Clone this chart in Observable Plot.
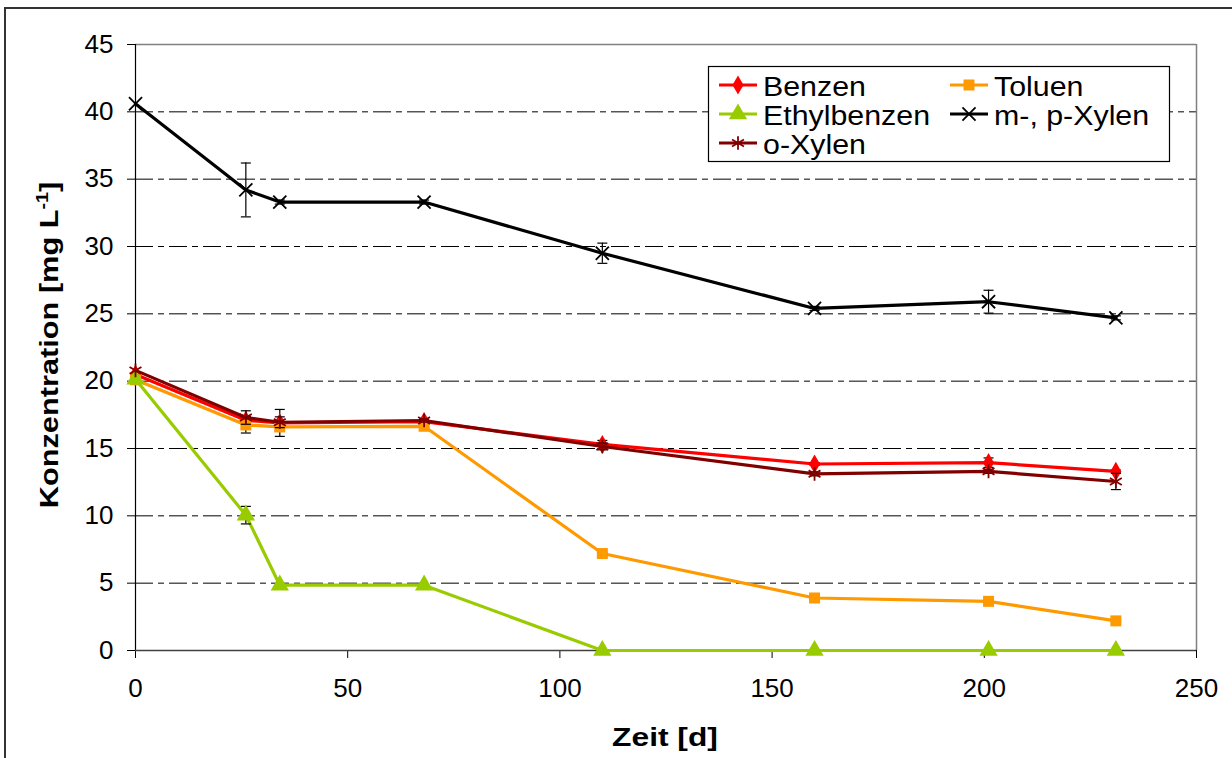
<!DOCTYPE html>
<html><head><meta charset="utf-8">
<script src="https://cdn.jsdelivr.net/npm/d3@7"></script>
<script src="https://cdn.jsdelivr.net/npm/@observablehq/plot@0.6"></script>
<style>
body{margin:0;background:#fff;overflow:hidden;font-family:"Liberation Sans",Arial,sans-serif;}
#wrap{position:relative;width:1232px;height:758px;overflow:hidden;background:#fff}
#chart{position:absolute;left:0;top:0}
#border{position:absolute;left:4px;top:7px;width:1300px;height:900px;border:2px solid #333;box-sizing:border-box;pointer-events:none}
</style></head><body><div id="wrap"><div id="chart"></div><div id="border"></div></div>
<script>
// ---- data ----
const days = [0, 26, 34, 68, 110, 160, 201, 231];
const seriesNames = ["Benzen", "Toluen", "Ethylbenzen", "m-, p-Xylen", "o-Xylen"];
const benzen      = [20.5, 17.1, 16.9, 17.0, 15.3, 13.85, 13.95, 13.3];
const benzenErr   = [0, 0.3, 1.0, 0.1, 0.3, 0.1, 0.35, 0.1];
const toluen      = [20.1, 16.75, 16.6, 16.65, 7.2, 3.9, 3.65, 2.2];
const toluenErr   = [0, 0.6, 0.3, 0.1, 0.1, 0.1, 0.1, 0.1];
const ethyl       = [20.15, 10.05, 4.85, 4.85, 0, 0, 0, 0];
const ethylErr    = [0, 0.65, 0.1, 0.05, 0, 0, 0, 0];
const mpXylen     = [40.6, 34.2, 33.3, 33.3, 29.5, 25.4, 25.9, 24.7];
const mpXylenErr  = [0, 2.0, 0.15, 0.15, 0.75, 0.15, 0.85, 0.15];
const oXylen      = [20.8, 17.3, 16.95, 17.08, 15.15, 13.12, 13.3, 12.55];
const oXylenErr   = [0, 0.5, 0.4, 0.1, 0.25, 0.15, 0.15, 0.6];
const xTicks = [0, 50, 100, 150, 200, 250];
const yTicks = [0, 5, 10, 15, 20, 25, 30, 35, 40, 45];
const yGrid = [5, 10, 15, 20, 25, 30, 35, 40];
const xLabel = "Zeit [d]";
const yLabelMain = "Konzentration [mg L";
const yLabelSup = "-1";
const yLabelEnd = "]";

const values = [benzen, toluen, ethyl, mpXylen, oXylen];
const errors = [benzenErr, toluenErr, ethylErr, mpXylenErr, oXylenErr];
const styles = [
  {color: "#FF0000", symbol: "diamond", filled: true, r: 5.8},
  {color: "#FF9900", symbol: "square", filled: true, r: 6.2},
  {color: "#99CC00", symbol: "triangle", filled: true, r: 6.8},
  {color: "#000000", symbol: "times", filled: false, r: 6},
  {color: "#800000", symbol: "asterisk", filled: false, r: 6.5}
];
const rows = seriesNames.map((name, i) => days.map((d, j) => ({
  series: name, day: d, value: values[i][j], err: errors[i][j],
  lo: values[i][j] - errors[i][j], hi: values[i][j] + errors[i][j]
})));

const capSymbol = {draw(ctx) { ctx.moveTo(-5, 0); ctx.lineTo(5, 0); }};
const FONT = "'Liberation Sans', Arial, sans-serif";

const marks = [
  Plot.ruleY(yGrid, {stroke: "#000", strokeWidth: 1, strokeDasharray: "18,5,6,5"}),
  Plot.ruleY([45], {stroke: "#808080", strokeWidth: 1.5}),
  Plot.ruleX([250], {stroke: "#808080", strokeWidth: 1.5}),
  Plot.axisY({ticks: yTicks, tickSize: 8, tickPadding: 14, label: null, fontSize: 26, tickFormat: d => String(d)}),
  Plot.axisX({ticks: xTicks, tickSize: 8, tickPadding: 20, label: null, fontSize: 26, tickFormat: d => String(d)}),
  Plot.ruleX([0], {stroke: "#000", strokeWidth: 1.2}),
  Plot.ruleY([0], {stroke: "#404040", strokeWidth: 1.5})
];
seriesNames.forEach((name, i) => {
  const s = styles[i];
  const data = rows[i];
  const ebars = data.filter(d => d.err > 0);
  marks.push(Plot.line(data, {x: "day", y: "value", stroke: s.color, strokeWidth: 3.2, curve: "linear"}));
  marks.push(Plot.ruleX(ebars, {x: "day", y1: "lo", y2: "hi", stroke: "#000", strokeWidth: 1.2}));
  marks.push(Plot.dot(ebars, {x: "day", y: "lo", symbol: capSymbol, stroke: "#000", fill: "none", strokeWidth: 1.2}));
  marks.push(Plot.dot(ebars, {x: "day", y: "hi", symbol: capSymbol, stroke: "#000", fill: "none", strokeWidth: 1.2}));
  marks.push(Plot.dot(data, s.filled
    ? {x: "day", y: "value", symbol: s.symbol, r: s.r, fill: s.color, stroke: "none"}
    : {x: "day", y: "value", symbol: s.symbol, r: s.r, stroke: s.color, strokeWidth: 1.8, fill: "none"}));
});

const chart = Plot.plot({
  width: 1232, height: 758,
  marginLeft: 135, marginRight: 36, marginTop: 44, marginBottom: 108,
  x: {domain: [0, 250]},
  y: {domain: [0, 45]},
  style: {background: "transparent", fontFamily: FONT, fontSize: "26px", color: "#000"},
  marks
});
document.getElementById("chart").appendChild(chart);

// axis titles
const svg = d3.select(chart);
svg.append("text")
  .attr("transform", "translate(665,746) scale(1.27,1)")
  .attr("text-anchor", "middle")
  .attr("font-weight", "bold").attr("font-size", 25).attr("fill", "#000")
  .attr("font-family", FONT)
  .text(xLabel);
const yl = svg.append("text")
  .attr("transform", "translate(58,345) rotate(-90) scale(1.23,1)")
  .attr("text-anchor", "middle")
  .attr("font-weight", "bold").attr("font-size", 25).attr("fill", "#000")
  .attr("font-family", FONT);
yl.append("tspan").text(yLabelMain);
yl.append("tspan").attr("font-size", 16).attr("dy", -10).text(yLabelSup);
yl.append("tspan").attr("dy", 10).text(yLabelEnd);

// legend
const lg = svg.append("g");
lg.append("rect").attr("x", 708.5).attr("y", 66.5).attr("width", 461).attr("height", 95)
  .attr("fill", "#fff").attr("stroke", "#000").attr("stroke-width", 1.2);
const symMap = {diamond: d3.symbolDiamond, square: d3.symbolSquare, triangle: d3.symbolTriangle, times: d3.symbolTimes, asterisk: d3.symbolAsterisk};
seriesNames.forEach((name, i) => {
  const s = styles[i];
  const col = i % 2, row = Math.floor(i / 2);
  const x0 = col === 0 ? 719 : 950;
  const y0 = 85 + row * 29;
  const g = lg.append("g");
  g.append("line").attr("x1", x0).attr("x2", x0 + 38).attr("y1", y0).attr("y2", y0)
    .attr("stroke", s.color).attr("stroke-width", 3.2);
  const p = g.append("path")
    .attr("transform", `translate(${x0 + 19},${y0})`)
    .attr("d", d3.symbol(symMap[s.symbol], Math.PI * s.r * s.r)());
  if (s.filled) p.attr("fill", s.color); else p.attr("fill", "none").attr("stroke", s.color).attr("stroke-width", 1.8);
  g.append("text")
    .attr("transform", `translate(${x0 + 44},${y0 + 11}) scale(1.124,1)`)
    .attr("text-anchor", "start")
    .attr("font-size", 27).attr("fill", "#000")
    .attr("font-family", FONT)
    .text(name);
});
</script></body></html>
